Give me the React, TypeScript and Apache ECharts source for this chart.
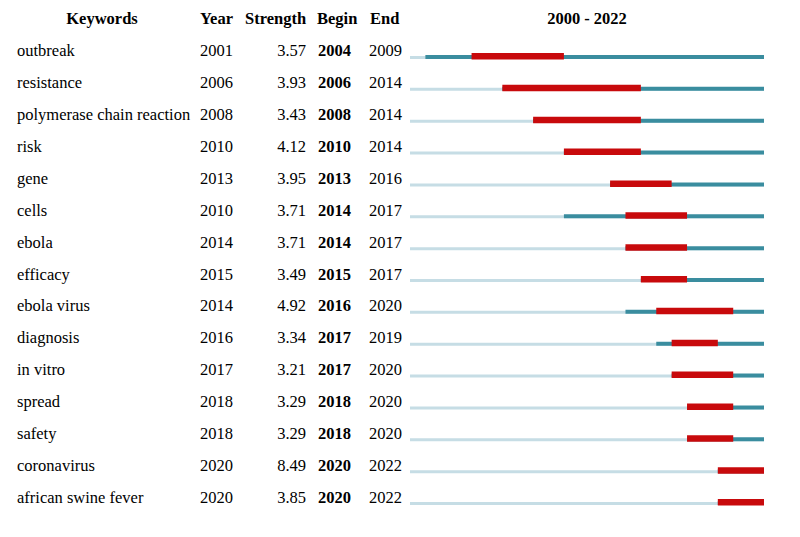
import React, { useEffect, useRef } from "react";
import * as echarts from "echarts";

const keywords = ["outbreak", "resistance", "polymerase chain reaction", "risk", "gene", "cells", "ebola", "efficacy", "ebola virus", "diagnosis", "in vitro", "spread", "safety", "coronavirus", "african swine fever"];
const years = [2001, 2006, 2008, 2010, 2013, 2010, 2014, 2015, 2014, 2016, 2017, 2018, 2018, 2020, 2020];
const strengths = [3.57, 3.93, 3.43, 4.12, 3.95, 3.71, 3.71, 3.49, 4.92, 3.34, 3.21, 3.29, 3.29, 8.49, 3.85];
const begins = [2004, 2006, 2008, 2010, 2013, 2014, 2014, 2015, 2016, 2017, 2017, 2018, 2018, 2020, 2020];
const ends = [2009, 2014, 2014, 2014, 2016, 2017, 2017, 2017, 2020, 2019, 2020, 2020, 2020, 2022, 2022];
const startYear = 2000;
const endYear = 2022;
const headers = ["Keywords", "Year", "Strength", "Begin", "End"];

const FONT = "'Liberation Serif', 'Times New Roman', serif";

export default function App() {
  const ref = useRef<HTMLDivElement>(null);
  useEffect(() => {
    if (!ref.current) return;
    const chart = echarts.init(ref.current, null, { renderer: "svg" });
    const data = keywords.map((k, i) => [i, years[i], begins[i], ends[i], strengths[i]]);
    const textStyle = (txt: string, x: number, y: number, align: string, bold = false) => ({
      type: "text",
      x,
      y,
      style: {
        text: txt,
        font: `${bold ? "bold " : ""}16.5px ${FONT}`,
        fill: "#000",
        align,
        verticalAlign: "middle",
      },
    });
    chart.setOption({
      animation: false,
      grid: { left: 410, right: 36, top: 40, bottom: 19 },
      xAxis: { type: "value", min: startYear, max: endYear + 1, show: false },
      yAxis: { type: "category", data: keywords, inverse: true, show: false },
      graphic: [
        textStyle(headers[0], 102, 18, "center", true),
        textStyle(headers[1], 200, 18, "left", true),
        textStyle(headers[2], 245, 18, "left", true),
        textStyle(headers[3], 317, 18, "left", true),
        textStyle(headers[4], 370, 18, "left", true),
        textStyle(`${startYear} - ${endYear}`, 587, 18, "center", true),
      ],
      series: [
        {
          type: "custom",
          data,
          renderItem: (params: any, api: any) => {
            const idx = api.value(0);
            const y0 = api.value(1);
            const b = api.value(2);
            const e = api.value(3);
            const s = api.coord([startYear, idx]);
            const fin = api.coord([endYear + 1, idx]);
            const yr = api.coord([y0, idx]);
            const bb = api.coord([b, idx]);
            const ee = api.coord([e + 1, idx]);
            const cy = s[1];
            return {
              type: "group",
              children: [
                { type: "rect", shape: { x: s[0], y: cy, width: fin[0] - s[0], height: 3 }, style: { fill: "#c6dde5" } },
                { type: "rect", shape: { x: yr[0], y: cy - 1, width: fin[0] - yr[0], height: 4 }, style: { fill: "#3a8d9f" } },
                { type: "rect", shape: { x: bb[0], y: cy - 3, width: ee[0] - bb[0], height: 6.5 }, style: { fill: "#c80a0c" } },
              ],
            };
          },
        },
        {
          type: "custom",
          data,
          renderItem: (params: any, api: any) => {
            const idx = api.value(0);
            const p = api.coord([startYear, idx]);
            const y = p[1] - 5;
            const i = params.dataIndex;
            return {
              type: "group",
              children: [
                textStyle(keywords[i], 17, y, "left"),
                textStyle(String(years[i]), 200, y, "left"),
                textStyle(strengths[i].toFixed(2), 306, y, "right"),
                textStyle(String(begins[i]), 318, y, "left", true),
                textStyle(String(ends[i]), 369, y, "left"),
              ],
            };
          },
        },
      ],
    });
    return () => chart.dispose();
  }, []);
  return <div ref={ref} style={{ width: 800, height: 537, position: "absolute", left: 0, top: 0, background: "#fff" }} />;
}
